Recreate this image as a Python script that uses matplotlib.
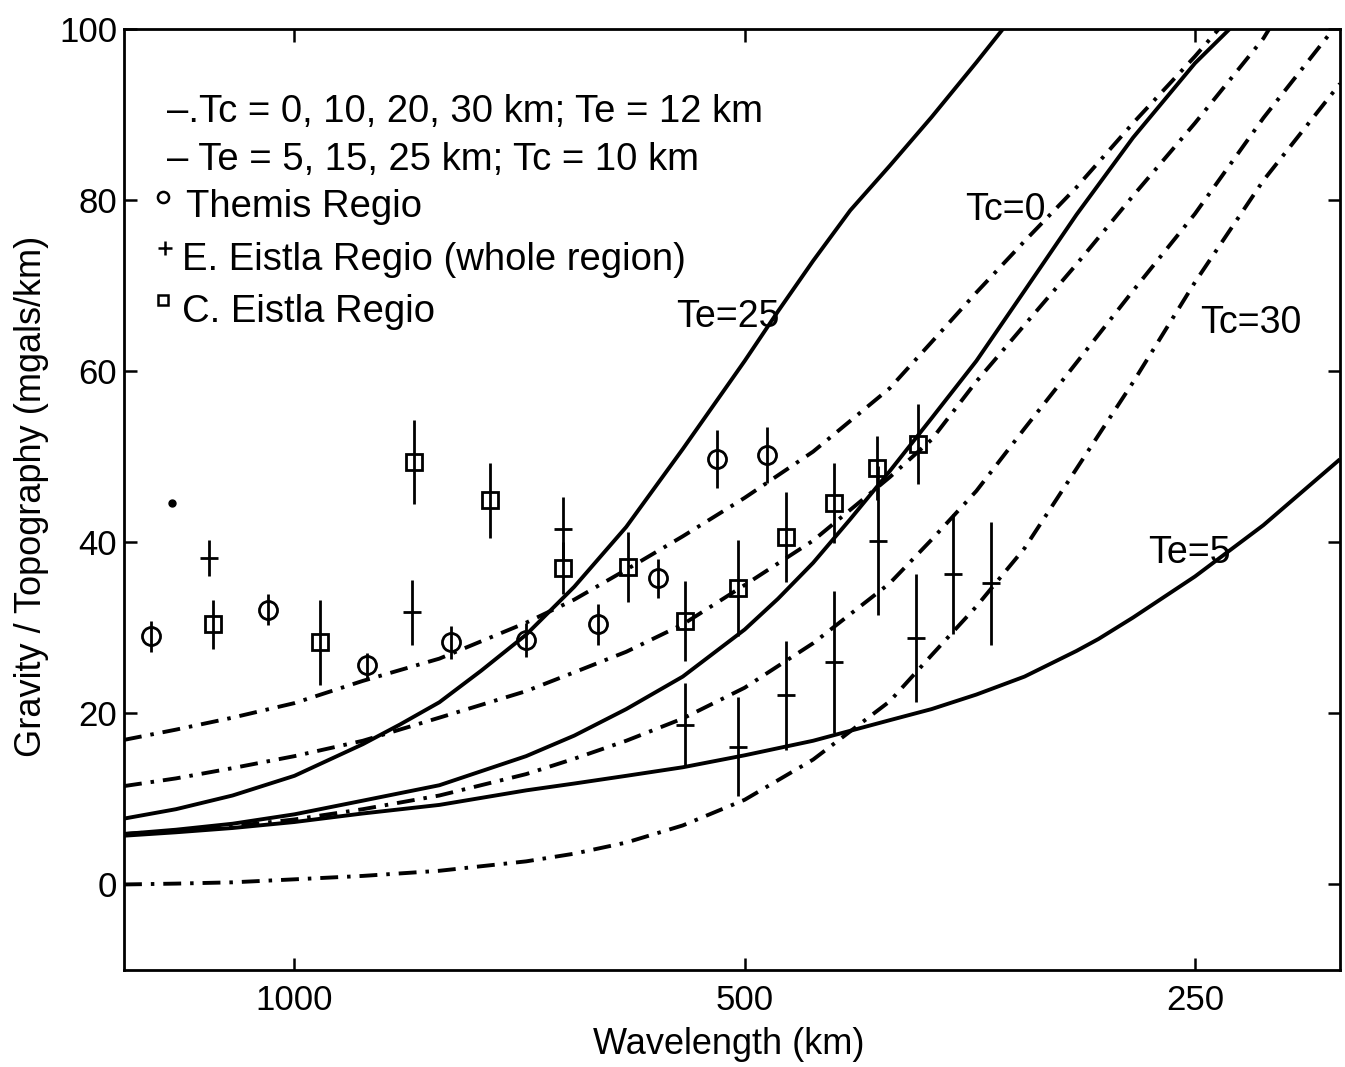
import matplotlib
matplotlib.use("Agg")
import matplotlib.pyplot as plt
from matplotlib.ticker import FixedLocator, NullLocator, FixedFormatter

plt.rcParams["font.family"] = ["Liberation Sans", "DejaVu Sans"]

# model curves: wavelength (km) and gravity/topography ratio (mgals/km)
te5_wave = [1300, 1200, 1100, 1000, 900, 800, 700, 650, 600, 550, 500,
            450, 400, 375, 350, 325, 300, 290, 275, 250, 225, 200]
te5_val = [5.7, 6.1, 6.6, 7.3, 8.3, 9.3, 11.0, 11.8, 12.7, 13.7, 15.1,
           16.8, 19.2, 20.5, 22.2, 24.3, 27.3, 28.7, 31.2, 36.0, 42.0, 49.7]

te15_wave = [1300, 1200, 1100, 1000, 900, 800, 700, 650, 600, 550, 500,
             475, 450, 425, 400, 375, 350, 325, 300, 275, 250, 237]
te15_val = [5.9, 6.4, 7.1, 8.2, 9.8, 11.6, 15.0, 17.4, 20.5, 24.3, 29.8,
            33.4, 37.6, 42.7, 48.3, 54.5, 61.2, 69.4, 78.3, 87.3, 96.0, 100.0]

te25_wave = [1300, 1200, 1100, 1000, 900, 850, 800, 750, 700, 650, 600, 550,
             500, 475, 450, 425, 400, 375, 350, 336]
te25_val = [7.7, 8.8, 10.4, 12.7, 16.4, 18.7, 21.3, 25.0, 29.2, 34.8, 41.8, 50.9,
            61.2, 67.0, 72.9, 78.8, 84.0, 89.7, 96.1, 100.0]

tc0_wave = [1300, 1200, 1100, 1000, 900, 800, 700, 650, 600, 550, 500,
            450, 400, 375, 350, 325, 300, 275, 250, 241]
tc0_val = [16.9, 18.1, 19.5, 21.2, 23.8, 26.4, 30.6, 33.3, 36.8, 40.7, 45.2,
           50.6, 58.0, 63.4, 69.2, 75.2, 81.5, 89.0, 96.8, 100.0]

tc10_wave = [1300, 1200, 1100, 1000, 900, 800, 700, 650, 600, 550, 500,
             450, 400, 375, 350, 325, 300, 275, 250, 225, 223]
tc10_val = [11.5, 12.4, 13.6, 15.0, 16.8, 19.5, 22.6, 24.8, 27.2, 30.4, 35.0,
            40.2, 47.6, 52.0, 58.8, 65.4, 72.5, 80.5, 89.0, 98.9, 100.0]

tc20_wave = [1300, 1200, 1100, 1000, 900, 800, 700, 650, 600, 550, 500,
             450, 400, 375, 350, 325, 300, 275, 250, 225, 202]
tc20_val = [5.9, 6.3, 6.8, 7.6, 8.8, 10.4, 12.9, 14.7, 16.8, 19.4, 23.0,
            28.2, 35.2, 40.3, 46.0, 53.3, 61.0, 69.4, 78.4, 89.6, 100.0]

tc30_wave = [1300, 1200, 1100, 1000, 900, 800, 700, 650, 600, 550, 500,
             450, 400, 375, 350, 325, 300, 275, 250, 225, 200]
tc30_val = [0.0, 0.1, 0.25, 0.6, 1.0, 1.6, 2.7, 3.6, 4.9, 6.9, 9.9,
            14.6, 21.4, 26.8, 32.5, 39.3, 48.6, 58.7, 70.4, 82.3, 93.6]

# observed ratios with one-sigma errors
themis_wave = [1248, 1042, 894, 786, 700, 627, 571, 522, 483]
themis_val = [29.0, 32.1, 25.6, 28.3, 28.6, 30.4, 35.8, 49.7, 50.2]
themis_err = [1.8, 1.8, 1.5, 1.9, 2.0, 2.4, 2.3, 3.4, 3.3]

east_wave = [1141, 835, 661, 548, 505, 469, 436, 407, 384, 363, 342]
east_val = [38.2, 31.8, 41.6, 18.6, 16.1, 22.1, 26.0, 40.2, 28.8, 36.3, 35.2]
east_err = [2.1, 3.8, 3.7, 4.9, 5.8, 6.4, 8.3, 8.7, 7.5, 7.0, 7.2]

central_wave = [1134, 962, 832, 740, 661, 598, 548, 505, 469, 436, 408, 383]
central_val = [30.4, 28.3, 49.4, 44.9, 37.0, 37.1, 30.8, 34.7, 40.6, 44.6, 48.7, 51.5]
central_err = [2.9, 5.0, 4.9, 4.4, 3.0, 4.1, 4.7, 5.6, 5.3, 4.7, 3.7, 4.7]

dot_wave = [1208]
dot_val = [44.6]

x_ticks = [1000, 500, 250]
x_tick_labels = ["1000", "500", "250"]
y_ticks = [0, 20, 40, 60, 80, 100]

DASHDOT = (0, (4.6, 2.3, 0.9, 2.3))

fig = plt.figure(figsize=(13.45, 10.67), dpi=100)
ax = fig.add_axes([0.0922, 0.0909, 0.904, 0.8819])

for wave, val in [(te5_wave, te5_val), (te15_wave, te15_val), (te25_wave, te25_val)]:
    ax.plot(wave, val, color="black", lw=2.8, solid_capstyle="butt",
            solid_joinstyle="round")
for wave, val in [(tc0_wave, tc0_val), (tc10_wave, tc10_val),
                  (tc20_wave, tc20_val), (tc30_wave, tc30_val)]:
    ax.plot(wave, val, color="black", lw=2.8, linestyle=DASHDOT)

bar_kw = dict(ecolor="black", elinewidth=2.0, capsize=0, linestyle="none",
              mec="black", mfc="none", mew=2.0)
ax.errorbar(themis_wave, themis_val, yerr=themis_err, marker="o", ms=13, **bar_kw)
ax.errorbar(east_wave, east_val, yerr=east_err, marker="_", ms=13, **bar_kw)
ax.errorbar(central_wave, central_val, yerr=central_err, marker="s", ms=11, **bar_kw)
ax.plot(dot_wave, dot_val, "o", color="black", ms=5)

ax.set_xscale("log")
ax.set_xlim(1300, 200)
ax.set_ylim(-10, 100)
ax.xaxis.set_major_locator(FixedLocator(x_ticks))
ax.xaxis.set_major_formatter(FixedFormatter(x_tick_labels))
ax.xaxis.set_minor_locator(NullLocator())
ax.yaxis.set_major_locator(FixedLocator(y_ticks))
ax.tick_params(direction="in", length=9, width=1.8, top=True, right=True,
               labelsize=25)
ax.tick_params(axis="x", pad=10)
ax.tick_params(axis="y", pad=5)
for spine in ax.spines.values():
    spine.set_linewidth(2.0)

ax.set_xlabel("Wavelength (km)", fontsize=26)
ax.xaxis.set_label_coords(0.4975, -0.0606)
ax.xaxis.label.set_va("top")
ax.set_ylabel("Gravity / Topography (mgals/km)", fontsize=26)
ax.yaxis.set_label_coords(-0.0757, 0.503)
ax.yaxis.label.set_va("center")

# key drawn as plain text lines with small symbols
txt = dict(transform=ax.transAxes, fontsize=27.5, va="baseline", ha="left")
ax.text(0.0354, 0.9012, "\u2013.Tc = 0, 10, 20, 30 km; Te = 12 km", **txt)
ax.text(0.0354, 0.8502, "\u2013 Te = 5, 15, 25 km; Tc = 10 km", **txt)
ax.text(0.051, 0.8002, "Themis Regio", **txt)
ax.text(0.0477, 0.7439, "E. Eistla Regio (whole region)", **txt)
ax.text(0.0477, 0.6886, "C. Eistla Regio", **txt)
key_kw = dict(transform=ax.transAxes, color="black", mfc="none", mew=1.8,
              linestyle="none")
ax.plot([0.0321], [0.8215], marker="o", ms=8, **key_kw)
ax.plot([0.0337], [0.7673], marker="+", ms=10, **key_kw)
ax.plot([0.0321], [0.712], marker="s", ms=7, **key_kw)

lab = dict(transform=ax.transAxes, fontsize=27, va="baseline", ha="center")
ax.text(0.4967, 0.6833, "Te=25", **lab)
ax.text(0.7245, 0.797, "Tc=0", **lab)
ax.text(0.9268, 0.677, "Tc=30", **lab)
ax.text(0.8766, 0.4325, "Te=5", **lab)

fig.savefig("out.png", dpi=100)
